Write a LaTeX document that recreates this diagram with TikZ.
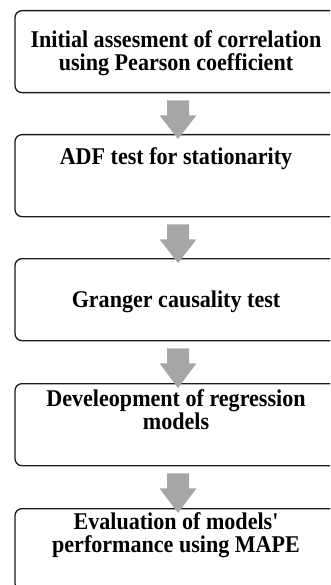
\documentclass[tikz,border=0pt]{standalone}
\usepackage{fontspec}
\newfontfamily\labelfont{Liberation Serif}
\usetikzlibrary{calc}
\definecolor{arrowgray}{HTML}{A6A6A6}
\definecolor{boxline}{HTML}{1A1A1A}
\newcommand\squeezelbl[1]{\scalebox{0.92}[1]{#1}}
\begin{document}
\begin{tikzpicture}[x=1pt,y=1pt,
  stepbox/.style={draw=boxline,line width=1.3pt,rounded corners=7pt,
    minimum width=322pt,minimum height=82pt,anchor=north,inner sep=0pt},
  label/.style={anchor=base,inner sep=0pt,font=\labelfont\fontsize{24}{24}\selectfont\bfseries}]
\useasboundingbox (0,0) rectangle (330,-585);
\clip (0,0) rectangle (330,-585);
\node[stepbox] (b1) at (176,-10) {};
\node[stepbox] (b2) at (176,-134) {};
\node[stepbox] (b3) at (176,-258) {};
\node[stepbox] (b4) at (176,-383) {};
\node[stepbox] (b5) at (176,-508) {};
\node[label] (t1a) at (176,-48) {\squeezelbl{Initial assesment of correlation}};
\node[label] (t1b) at (176,-71) {\squeezelbl{using Pearson coefficient}};
\node[label] (t2) at (176,-165) {\squeezelbl{ADF test for stationarity}};
\node[label] (t3) at (176,-307) {\squeezelbl{Granger causality test}};
\node[label] (t4a) at (176,-406) {\squeezelbl{Develeopment of regression}};
\node[label] (t4b) at (176,-429) {\squeezelbl{models}};
\node[label] (t5a) at (176,-529) {\squeezelbl{Evaluation of models'}};
\node[label] (t5b) at (176,-552) {\squeezelbl{performance using MAPE}};
\foreach \a/\b in {b1/b2,b2/b3,b3/b4,b4/b5}{
  \fill[arrowgray] ($(\a.south)+(-9,-7)$) -- ($(\a.south)+(13,-7)$)
    -- ($(\a.south)+(13,-22)$) -- ($(\a.south)+(20.5,-22)$)
    -- ($(\b.north)+(2,-5)$) -- ($(\a.south)+(-16.5,-22)$)
    -- ($(\a.south)+(-9,-22)$) -- cycle;
}
\end{tikzpicture}
\end{document}
